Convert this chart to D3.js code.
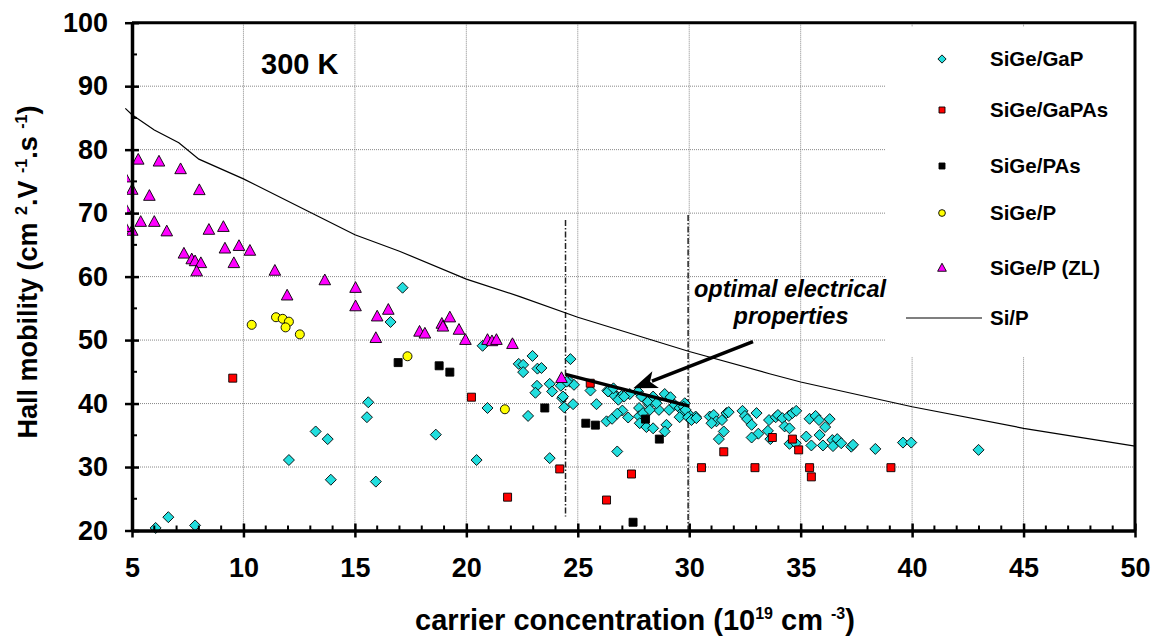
<!DOCTYPE html>
<html>
<head>
<meta charset="utf-8">
<script src="https://cdn.jsdelivr.net/npm/d3@7"></script>
<style>
body { margin: 0; background: #fff; }
text { font-family: "Liberation Sans", Arial, sans-serif; font-weight: bold; fill: #000; }
</style>
</head>
<body>
<svg id="chart" width="1155" height="639"></svg>
<script>
// Global settings
let plotL = 132, plotR = 1135, plotT = 22.7, plotB = 530.5

// Axis ticks
let xTicks = [5, 10, 15, 20, 25, 30, 35, 40, 45, 50]
let yTicks = [20, 30, 40, 50, 60, 70, 80, 90, 100]

// SiGe/GaP (cyan diamonds)
let gapX = [17.14, 16.6, 15.6, 15.54, 13.24, 13.78, 12.04, 13.92, 15.94, 6.63, 6.06, 7.83,
  18.63, 20.46, 20.95, 20.73, 22.77, 23.74, 22.35, 22.55, 22.55, 22.97, 23.19, 23.37, 23.17, 23.1,
  23.74, 23.85, 24.24, 24.3, 24.39, 24.67, 24.64, 24.83, 24.79, 25.84, 25.57, 26.29, 26.54, 26.77,
  26.33, 26.77, 26.6, 26.96, 27.0, 27.26, 27.33, 27.75, 27.75, 27.78, 28.08, 28.38, 28.05, 28.2,
  28.5, 28.64, 28.9, 28.98, 28.9, 29.16, 29.1, 29.35, 29.57, 29.72, 29.8, 30.02, 30.29,
  24.34, 26.36, 26.6, 26.82, 27.08, 26.77, 27.7, 27.86, 27.93, 28.15, 28.38, 28.53, 28.23,
  29.57, 29.75, 29.84, 29.95, 30.1, 30.32, 30.92, 31.1, 31.22, 31.0, 31.47, 31.55, 31.33, 31.67, 24.5,
  31.77, 32.39, 32.5, 32.6, 32.8, 33.02, 33.1, 32.8, 33.53, 33.58, 33.64, 33.88, 33.98, 34.18, 34.28,
  34.5, 34.47, 34.63, 34.8, 34.5, 34.78, 35.25, 35.4, 35.67, 35.82, 35.85, 35.48, 36.0, 36.1, 36.3,
  36.42, 36.45, 36.64, 36.82, 37.27, 37.35, 38.35, 39.59, 39.96, 42.98]
let gapY = [58.25, 52.85, 40.2, 37.85, 35.6, 34.4, 31.1, 28.0, 27.7, 22.1, 20.4, 20.8,
  35.1, 31.1, 39.3, 49.1, 38.05, 31.4, 46.25, 46.1, 44.95, 47.5, 45.5, 45.6, 42.8, 41.7,
  43.1, 41.9, 42.8, 40.85, 39.4, 47.0, 43.45, 42.95, 39.9, 39.9, 42.05, 37.2, 37.6, 32.45,
  42.05, 41.1, 41.4, 41.2, 38.9, 37.8, 41.5, 39.3, 38.0, 36.9, 36.3, 36.1, 40.6, 39.8,
  40.5, 39.0, 41.5, 36.65, 35.6, 41.0, 39.0, 39.8, 39.3, 38.75, 40.05, 38.2, 37.95,
  41.1, 41.9, 42.4, 40.6, 41.1, 38.4, 41.9, 41.1, 38.5, 40.3, 41.1, 40.05, 39.0,
  37.85, 39.5, 39.0, 37.85, 37.4, 37.7, 37.95, 38.2, 37.2, 36.9, 37.4, 35.6, 34.4, 38.5, 43.45,
  38.65, 38.85, 38.05, 37.55, 36.65, 38.5, 35.25, 34.65, 35.7, 37.4, 34.4, 37.85, 38.2, 37.7, 36.4,
  36.1, 38.05, 38.5, 38.85, 33.65, 33.75, 34.8, 37.6, 38.05, 37.4, 35.05, 33.4, 33.4, 36.3, 37.55,
  34.25, 33.3, 34.4, 33.75, 33.2, 33.5, 32.85, 33.85, 33.85, 32.7]

// SiGe/GaPAs (red squares)
let gapasX = [9.52, 20.23, 21.85, 24.19, 25.56, 26.29, 27.41, 30.55, 31.55, 32.95, 33.73, 34.63, 34.91, 35.4, 35.48, 39.05]
let gapasY = [44.0, 41.0, 25.25, 29.7, 43.2, 24.8, 28.9, 29.9, 32.4, 29.9, 34.65, 34.4, 32.7, 29.9, 28.45, 29.9]

// SiGe/PAs (black squares)
let pasX = [16.94, 18.78, 19.26, 23.52, 25.36, 25.79, 27.48, 28.04, 28.66]
let pasY = [46.45, 45.95, 44.95, 39.3, 36.9, 36.6, 21.3, 37.55, 34.4]

// SiGe/P (yellow circles)
let pX = [10.37, 11.46, 11.76, 12.04, 11.89, 12.53, 17.36, 21.73]
let pY = [52.4, 53.6, 53.35, 52.9, 52.0, 50.9, 47.45, 39.1]

// SiGe/P (ZL) (magenta triangles)
let zlX = [5.28, 6.21, 7.18, 4.69, 5.01, 5.78, 8.02, 4.69, 5.39, 6.0, 5.01, 4.69, 6.56, 8.45, 9.1,
  7.33, 7.68, 7.83, 8.09, 7.9, 9.17, 9.8, 10.29, 9.57, 11.41, 13.65, 11.96, 15.03, 15.03,
  16.0, 16.5, 15.94, 17.9, 18.14, 18.9, 18.95, 19.26, 19.67, 19.96, 20.95, 21.15, 21.35, 22.07, 24.27]
let zlY = [78.4, 78.1, 76.9, 75.6, 73.65, 72.7, 73.6, 70.8, 68.6, 68.6, 67.2, 67.8, 67.1, 67.35, 67.8,
  63.6, 62.7, 62.4, 62.1, 60.8, 64.4, 64.8, 64.05, 62.1, 60.9, 59.4, 57.0, 58.2, 55.3,
  53.7, 54.75, 50.3, 51.3, 51.0, 52.55, 52.1, 53.55, 51.6, 50.0, 50.0, 49.8, 50.0, 49.35, 44.0]

// Si/P (line)
let sipX = [4.7, 5, 6, 7.1, 8, 10, 15, 17, 20, 22.4, 25, 30, 33.6, 35, 40, 45, 50]
let sipY = [86.5, 85.5, 83.1, 81.1, 78.5, 75.4, 66.6, 64.0, 59.6, 56.85, 53.6, 48.2, 44.7, 43.4, 39.5, 36.1, 33.3]

// Legend labels
let legendNames = ["SiGe/GaP", "SiGe/GaPAs", "SiGe/PAs", "SiGe/P", "SiGe/P (ZL)", "Si/P"]

function markerPath(shape, s) {
    if (shape === "diamond") return `M0,${-s}L${s},0L0,${s}L${-s},0Z`
    if (shape === "square") return `M${-s},${-s}H${s}V${s}H${-s}Z`
    if (shape === "triangle") return `M0,${-s * 1.1}L${s},${s * 0.75}L${-s},${s * 0.75}Z`
    // circle
    return `M${s},0A${s},${s} 0 1,1 ${-s},0A${s},${s} 0 1,1 ${s},0Z`
}

function main() {
    let svg = d3.select("#chart")

    let x = d3.scaleLinear().domain([5, 50]).range([plotL, plotR])
    let y = d3.scaleLinear().domain([20, 100]).range([plotB, plotT])

    // markers just left of the y axis are mostly cut off
    svg.append("clipPath").attr("id", "plotClip")
        .append("rect")
        .attr("x", plotL - 5).attr("y", 0)
        .attr("width", plotR - plotL + 10).attr("height", plotB + 10)

    // gridlines
    let grid = svg.append("g")
        .attr("stroke", "#888")
        .attr("stroke-width", 1)
        .attr("stroke-dasharray", "1,1")
    grid.selectAll(".hg")
        .data(yTicks.slice(1, -1))
        .enter().append("line")
        .attr("x1", plotL).attr("x2", plotR)
        .attr("y1", d => y(d)).attr("y2", d => y(d))
    grid.selectAll(".vg")
        .data(xTicks.slice(1, -1))
        .enter().append("line")
        .attr("y1", plotT).attr("y2", plotB)
        .attr("x1", d => x(d)).attr("x2", d => x(d))

    // legend background covers the grid
    svg.append("rect")
        .attr("x", 885).attr("y", 27)
        .attr("width", plotR - 885 - 2).attr("height", 330)
        .attr("fill", "white")

    // dash-dot limits of the optimal window
    let limits = [[24.45, 68.9, 22.2], [29.95, 69.7, 20]]
    svg.selectAll(".lim")
        .data(limits)
        .enter().append("line")
        .attr("x1", d => x(d[0])).attr("x2", d => x(d[0]))
        .attr("y1", d => y(d[1])).attr("y2", d => y(d[2]))
        .attr("stroke", "#222")
        .attr("stroke-width", 1.5)
        .attr("stroke-dasharray", "6,2,1.5,2")

    // Si/P curve
    let line = d3.line().x(d => x(d[0])).y(d => y(d[1]))
    svg.append("path")
        .datum(d3.zip(sipX, sipY))
        .attr("d", line)
        .attr("fill", "none")
        .attr("stroke", "#000")
        .attr("stroke-width", 1.2)

    // scatter series
    let series = [
        { xs: gapX, ys: gapY, shape: "diamond", size: 5.5, color: "#22dede" },
        { xs: gapasX, ys: gapasY, shape: "square", size: 4, color: "#ff0000" },
        { xs: pasX, ys: pasY, shape: "square", size: 4, color: "#000" },
        { xs: pX, ys: pY, shape: "circle", size: 4.5, color: "#ffff00" },
        { xs: zlX, ys: zlY, shape: "triangle", size: 5.8, color: "#ff00ff" }
    ]
    for (let s of series) {
        svg.append("g").attr("clip-path", "url(#plotClip)")
            .selectAll("path")
            .data(d3.zip(s.xs, s.ys))
            .enter().append("path")
            .attr("transform", d => `translate(${x(d[0])},${y(d[1])})`)
            .attr("d", markerPath(s.shape, s.size))
            .attr("fill", s.color)
            .attr("stroke", "#000")
            .attr("stroke-width", 0.9)
    }

    // trend line in the optimal window
    svg.append("line")
        .attr("x1", x(24.45)).attr("y1", y(44.6))
        .attr("x2", x(30.0)).attr("y2", y(39.6))
        .attr("stroke", "#000").attr("stroke-width", 3.5)

    // arrow to the optimal window
    let ax0 = x(32.86), ay0 = y(49.75), ax1 = x(27.49), ay1 = y(42.4)
    let ang = Math.atan2(ay1 - ay0, ax1 - ax0)
    let hl = 24, hw = 9
    let bx = ax1 - hl * Math.cos(ang), by = ay1 - hl * Math.sin(ang)
    svg.append("line")
        .attr("x1", ax0).attr("y1", ay0).attr("x2", bx + 4 * Math.cos(ang)).attr("y2", by + 4 * Math.sin(ang))
        .attr("stroke", "#000").attr("stroke-width", 3.5)
    svg.append("path")
        .attr("d", `M${ax1},${ay1}L${bx - hw * Math.sin(ang)},${by + hw * Math.cos(ang)}L${bx + 6 * Math.cos(ang)},${by + 6 * Math.sin(ang)}L${bx + hw * Math.sin(ang)},${by - hw * Math.cos(ang)}Z`)
        .attr("fill", "#000")

    svg.append("text")
        .attr("x", 790).attr("y", 297)
        .attr("text-anchor", "middle")
        .style("font-size", "23.5px").style("font-style", "italic")
        .text("optimal electrical")
    svg.append("text")
        .attr("x", 791).attr("y", 324)
        .attr("text-anchor", "middle")
        .style("font-size", "23.5px").style("font-style", "italic")
        .text("properties")

    svg.append("text")
        .attr("x", 261).attr("y", 74)
        .style("font-size", "29px")
        .text("300 K")

    // axes
    let xAxis = svg.append("g")
        .attr("transform", `translate(0,${plotB})`)
        .call(d3.axisBottom(x).tickValues(xTicks).tickSize(7).tickSizeOuter(0))
    xAxis.selectAll("line").attr("y1", -7).attr("stroke-width", 2.5)
    xAxis.selectAll("text").attr("y", 46).attr("dy", null).style("font-size", "27px")
    xAxis.select(".domain").attr("stroke-width", 3.5)

    let yAxis = svg.append("g")
        .attr("transform", `translate(${plotL},0)`)
        .call(d3.axisLeft(y).tickValues(yTicks).tickSize(7).tickSizeOuter(0).tickPadding(17))
    yAxis.selectAll("line").attr("x1", 7).attr("stroke-width", 2.5)
    yAxis.selectAll("text").style("font-size", "27px")
    yAxis.select(".domain").attr("stroke-width", 3.5)
    svg.selectAll(".tick text").attr("font-family", null)

    // minor ticks
    let xMinor = d3.range(6, 50).filter(d => d % 5 !== 0)
    svg.append("g").selectAll("line")
        .data(xMinor)
        .enter().append("line")
        .attr("x1", d => x(d)).attr("x2", d => x(d))
        .attr("y1", plotB).attr("y2", plotB - 5)
        .attr("stroke", "#000").attr("stroke-width", 2)
    let yMinor = d3.range(25, 100, 10)
    svg.append("g").selectAll("line")
        .data(yMinor)
        .enter().append("line")
        .attr("y1", d => y(d)).attr("y2", d => y(d))
        .attr("x1", plotL).attr("x2", plotL + 5)
        .attr("stroke", "#000").attr("stroke-width", 2)

    // top and right frame
    svg.append("path")
        .attr("d", `M${plotL},${plotT}H${plotR}V${plotB}`)
        .attr("fill", "none").attr("stroke", "#000").attr("stroke-width", 3)

    // axis titles
    let xt = svg.append("text")
        .attr("x", 635).attr("y", 630)
        .attr("text-anchor", "middle")
        .style("font-size", "29px")
    xt.append("tspan").text("carrier concentration (10")
    xt.append("tspan").attr("dy", -11).style("font-size", "16px").text("19")
    xt.append("tspan").attr("dy", 11).text(" cm ")
    xt.append("tspan").attr("dy", -11).style("font-size", "16px").text("-3")
    xt.append("tspan").attr("dy", 11).text(")")

    let yt = svg.append("text")
        .attr("transform", "translate(37,272) rotate(-90)")
        .attr("text-anchor", "middle")
        .style("font-size", "27px")
    yt.append("tspan").text("Hall mobility (cm ")
    yt.append("tspan").attr("dy", -10).style("font-size", "16px").text("2")
    yt.append("tspan").attr("dy", 10).text(".V ")
    yt.append("tspan").attr("dy", -10).style("font-size", "16px").text("-1")
    yt.append("tspan").attr("dy", 10).text(".s ")
    yt.append("tspan").attr("dy", -10).style("font-size", "16px").text("-1")
    yt.append("tspan").attr("dy", 10).text(")")

    // legend
    let rowsY = [59, 110, 166, 213, 268, 318]
    let legend = svg.append("g")
    series.forEach((s, i) => {
        legend.append("path")
            .attr("transform", `translate(942,${rowsY[i]})`)
            .attr("d", markerPath(s.shape, s.size * 0.75))
            .attr("fill", s.color)
            .attr("stroke", "#000")
            .attr("stroke-width", 0.9)
    })
    legend.append("line")
        .attr("x1", 906).attr("x2", 982)
        .attr("y1", rowsY[5]).attr("y2", rowsY[5])
        .attr("stroke", "#000").attr("stroke-width", 1.2)
    legend.selectAll("text")
        .data(legendNames)
        .enter().append("text")
        .attr("x", 990)
        .attr("y", (d, i) => rowsY[i] + 7)
        .style("font-size", "20.5px")
        .text(d => d)
}

main();
</script>
</body>
</html>
